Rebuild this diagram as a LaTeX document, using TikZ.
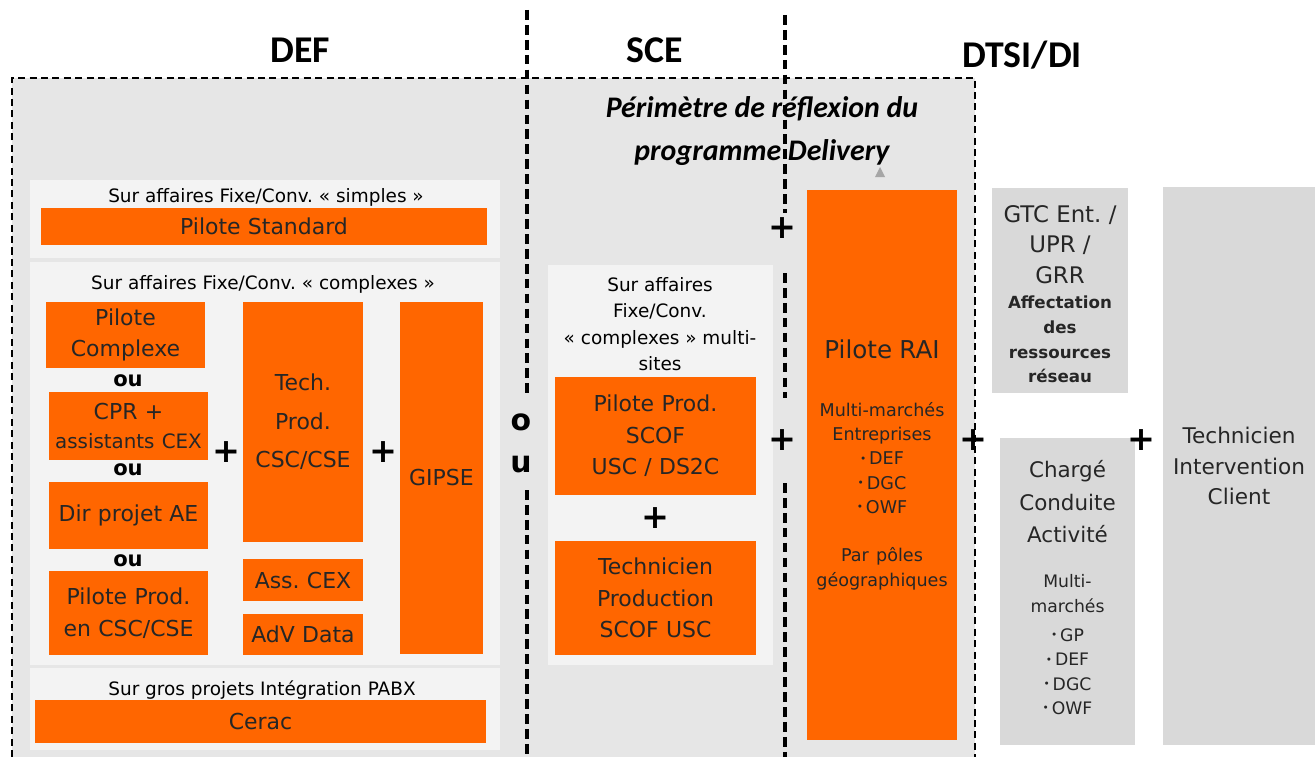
\documentclass[tikz,border=0pt]{standalone}
\usepackage{fontspec}
\setmainfont{DejaVu Sans}
\newfontfamily\titlefont{Carlito}
\usepackage{tikz}
\usetikzlibrary{calc}
\frenchspacing
\definecolor{ftorange}{HTML}{FF6600}
\definecolor{ftgrey}{HTML}{D9D9D9}
\definecolor{dotgrey}{HTML}{E6E6E6}
\definecolor{panelgrey}{HTML}{F3F3F3}
\def\fsz#1#2{\fontsize{#1}{#2}\selectfont}
\def\bul{\raisebox{0.3ex}{\fsz{6}{6}\textbullet}\,}
\long\def\cbox[#1](#2)(#3,#4)(#5,#6)#7{\fill[#1] (#3,#4) rectangle (#5,#6);
	\pgfmathsetmacro{\boxw}{(#5-#3)*0.02}
	\node[boxtext, text width=\boxw cm] (#2) at ({(#3+#5)/2},{(#4+#6)/2}) {#7\par};}
\tikzset{
	boxtext/.style={align=center, inner sep=0pt, text=black!85, font=\fsz{12.5}{18}},
	plus/.style={inner sep=1pt, font=\fsz{19}{19}\bfseries},
	ou/.style={inner sep=0pt, font=\fsz{12}{12}\bfseries},
	casetext/.style={align=center, inner sep=0pt, font=\fsz{10.5}{15}},
	sep/.style={line width=1.8pt, dash pattern=on 5.5pt off 3pt},
	perim/.style={line width=0.7pt, dash pattern=on 4pt off 2.5pt}
}

\begin{document}
\begin{tikzpicture}[x=0.02cm, y=-0.02cm]
		%%%%% START %%%%%
		\useasboundingbox (0, 0) rectangle (1315, 757);
		
		% perimetre Delivery
		\fill[dotgrey] (12, 78) rectangle (975, 757);
		\draw[perim] (12, 757) -- (12, 78) -- (975, 78) -- (975, 757);
		
		\node[font=\titlefont\fsz{21.5}{21.5}\bfseries] (def) at (300, 50) {DEF};
		\node[font=\titlefont\fsz{21.5}{21.5}\bfseries] (sce) at (655, 50) {SCE};
		\node[font=\titlefont\fsz{21.5}{21.5}\bfseries] (dtsi) at (1022, 55) {DTSI/DI};
		\node[align=center, font=\titlefont\fsz{17}{24}\bfseries\itshape] (perimtxt) at (762, 131) {P\'erim\`etre de r\'eflexion du\\programme Delivery};
		\fill[gray!70] (875, 177) -- (885, 177) -- (880, 167) -- cycle;
		
		% DEF
		\fill[panelgrey] (30, 180) rectangle (500, 258);
		\node[casetext] (simples) at (266, 197) {Sur affaires Fixe/Conv. \guillemotleft~simples~\guillemotright};
		\cbox[ftorange](pstd)(41, 208)(487, 245){Pilote Standard};
		
		\fill[panelgrey] (30, 262) rectangle (500, 665);
		\node[casetext] (complexes) at (263, 284) {Sur affaires Fixe/Conv. \guillemotleft~complexes~\guillemotright};
		\cbox[ftorange](pcomplexe)(46, 302)(205, 368){Pilote\\Complexe};
		\node[ou] (ou1) at (128, 381) {ou};
		\cbox[ftorange](cpr)(49, 392)(208, 460){\fsz{12.5}{17}CPR +\\\fsz{11.3}{17}assistants CEX};
		\node[ou] (ou2) at (128, 470) {ou};
		\cbox[ftorange](dirae)(49, 482)(208, 549){Dir projet AE};
		\node[ou] (ou3) at (128, 561) {ou};
		\cbox[ftorange](pprodcsc)(49, 571)(208, 655){Pilote Prod.\\en CSC/CSE};
		\node[plus] (plus1) at (226, 452) {+};
		\cbox[ftorange](techprod)(243, 302)(363, 542){Tech.\\[4pt]Prod.\\[4pt]CSC/CSE};
		\cbox[ftorange](asscex)(243, 559)(363, 601){Ass. CEX};
		\cbox[ftorange](advdata)(243, 614)(363, 655){AdV Data};
		\node[plus] (plus2) at (383, 452) {+};
		\cbox[ftorange](gipse)(400, 302)(483, 654){GIPSE};
		
		\fill[panelgrey] (30, 668) rectangle (500, 750);
		\node[casetext] (pabx) at (262, 690) {Sur gros projets Int\'egration PABX};
		\cbox[ftorange](cerac)(35, 700)(486, 743){Cerac};
		
		% separateur DEF / SCE
		\node[inner sep=1pt, font=\fsz{17}{17}\bfseries] (o) at (521, 422) {o};
		\node[inner sep=1pt, font=\fsz{17}{17}\bfseries] (u) at (521, 465) {u};
		\coordinate (septop1) at (527, 10);
		\coordinate (sepbot1) at (527, 757);
		\draw[sep] (septop1) -- (527, 393);
		\draw[sep] (527, 490) -- (sepbot1);
		
		% SCE
		\fill[panelgrey] (548, 265) rectangle (773, 665);
		\node[casetext] (multisites) at (660, 324) {Sur affaires\\Fixe/Conv.\\\guillemotleft~complexes~\guillemotright{} multi-\\sites};
		\cbox[ftorange](pprodscof)(555, 377)(756, 495){Pilote Prod.\\SCOF\\USC / DS2C};
		\node[plus] (plus3) at (655, 518) {+};
		\cbox[ftorange](techscof)(555, 541)(756, 655){Technicien\\Production\\SCOF USC};
		
		% separateur SCE / DTSI
		\node[plus] (plus4) at (782, 228) {+};
		\node[plus] (plus5) at (782, 440) {+};
		\coordinate (septop2) at (785, 15);
		\coordinate (sepbot2) at (785, 757);
		\draw[sep] (septop2) -- (785, 213);
		\draw[sep] (785, 273) -- (785, 398);
		\draw[sep] (785, 483) -- (sepbot2);
		
		% DTSI/DI
		\cbox[ftorange](rai)(807, 190)(957, 740){{\fsz{14}{17}Pilote RAI\par}\vspace{19pt}
			\fsz{10}{13.8}Multi-march\'es\\Entreprises\\\bul DEF\\\bul DGC\\\bul OWF\\[13.8pt]Par p\^oles\\g\'eographiques};
		\node[plus] (plus6) at (973, 440) {+};
		
		\cbox[ftgrey](gtc)(992, 196)(1128, 393){{\fsz{13}{17.2}GTC Ent. /\\UPR /\\GRR\par}
			\fsz{9.5}{14.2}\bfseries Affectation\\des\\ressources\\r\'eseau};
		\fill[ftgrey] (992, 188) rectangle (1128, 196);
		\cbox[ftgrey](charge)(1000, 438)(1135, 737){{\fsz{12.2}{18.5}Charg\'e\\Conduite\\Activit\'e\par}\vspace{12pt}
			\fsz{9.8}{13.8}Multi-\\march\'es\\[3pt]\bul GP\\\bul DEF\\\bul DGC\\\bul OWF};
		\fill[ftgrey] (1000, 737) rectangle (1135, 745);
		\node[plus] (plus7) at (1141, 440) {+};
		\cbox[ftgrey](tic)(1163, 187)(1315, 745){\fsz{12.3}{17.2}Technicien\\Intervention\\Client};
		
		%%%%% END %%%%%
	\end{tikzpicture}
\end{document}
